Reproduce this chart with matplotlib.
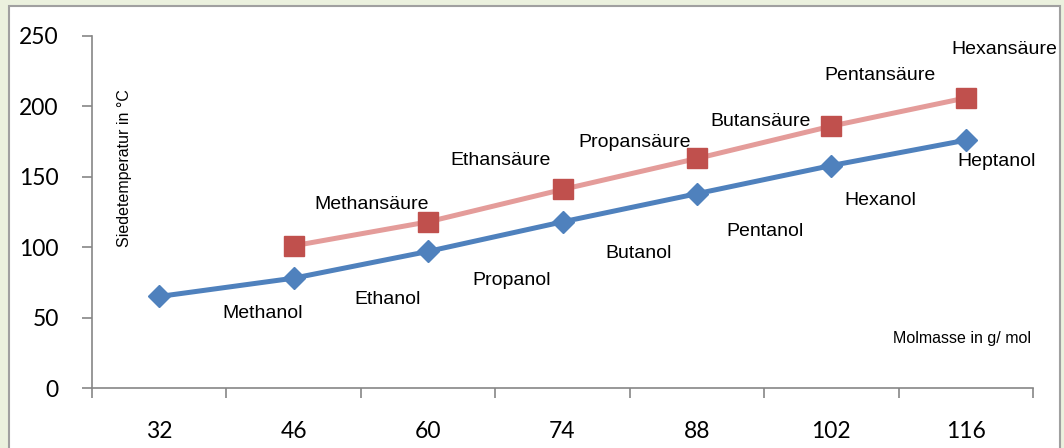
import matplotlib.pyplot as plt
from matplotlib.patches import Rectangle

# Molmasse (g/mol) als Kategorien
molmasse = ["32", "46", "60", "74", "88", "102", "116"]

# Alkohole: Methanol ... Heptanol
alkohole = ["Methanol", "Ethanol", "Propanol", "Butanol", "Pentanol", "Hexanol", "Heptanol"]
sdp_alkohole = [65, 78, 97, 118, 138, 158, 176]

# Carbonsäuren: Methansäure ... Hexansäure (ab 46 g/mol)
saeuren = ["Methansäure", "Ethansäure", "Propansäure", "Butansäure", "Pentansäure", "Hexansäure"]
sdp_saeuren = [101, 118, 141, 163, 186, 206]

# Versatz der Beschriftungen in Pixeln
off_alk = [(103, -17), (94, -21), (84, -29), (76, -32), (68, -38), (49, -35), (31, -21)]
off_saeure = [(78, 41), (72, 61), (72, 47), (64, 37), (49, 51), (39, 48)]

blau = "#4F81BD"
rot = "#C0504D"
rosa = "#E49C9A"
grau = "#868686"

fig = plt.figure(figsize=(10.64, 4.48), dpi=100, facecolor="#EBF1DE")
fig.patches.append(Rectangle((9 / 1064, -0.05), 1051 / 1064, 1.05 - 6 / 448,
                             transform=fig.transFigure, facecolor="white",
                             edgecolor="#A0A0A0", linewidth=1.5, zorder=-1))

ax = fig.add_axes([92 / 1064, 1 - 388 / 448, 941 / 1064, 352 / 448])
ax.set_facecolor("none")

x_alk = list(range(len(molmasse)))
x_saeure = x_alk[1:]

ax.plot(x_alk, sdp_alkohole, color=blau, lw=3.6, marker="D", ms=11,
        mfc=blau, mec=blau, zorder=3)
ax.plot(x_saeure, sdp_saeuren, color=rosa, lw=3.6, marker="s", ms=14,
        mfc=rot, mec=rot, zorder=3)

for x, y, name, off in zip(x_alk, sdp_alkohole, alkohole, off_alk):
    ax.annotate(name, (x, y), xytext=off, textcoords="offset pixels",
                ha="center", va="center", fontsize=14, family="Liberation Sans")
for x, y, name, off in zip(x_saeure, sdp_saeuren, saeuren, off_saeure):
    ax.annotate(name, (x, y), xytext=off, textcoords="offset pixels",
                ha="center", va="center", fontsize=14, family="Liberation Sans")

ax.set_xlim(-0.5, len(molmasse) - 0.5)
ax.set_ylim(0, 250)
ax.set_yticks(range(0, 251, 50))
ax.set_xticks(x_alk)
ax.set_xticklabels(molmasse)
ax.set_xticks([i - 0.5 for i in range(len(molmasse) + 1)], minor=True)
ax.tick_params(axis="x", which="major", length=0, pad=24, labelsize=16.5)
ax.tick_params(axis="x", which="minor", length=7, color=grau, width=1.2)
ax.tick_params(axis="y", length=7, color=grau, width=1.2, pad=17, labelsize=16.5)
for lbl in ax.get_xticklabels() + ax.get_yticklabels():
    lbl.set_family("Lato")

for s in ["top", "right"]:
    ax.spines[s].set_visible(False)
for s in ["left", "bottom"]:
    ax.spines[s].set_color(grau)
    ax.spines[s].set_linewidth(1.2)

fig.text(125 / 1064, 1 - 168 / 448, "Siedetemperatur in °C", rotation=90,
         ha="center", va="center", fontsize=11.5, family="Liberation Sans")
fig.text(962 / 1064, 1 - 338 / 448, "Molmasse in g/ mol",
         ha="center", va="center", fontsize=11.5, family="Liberation Sans")

fig.savefig("out.png", dpi=100, facecolor=fig.get_facecolor())
